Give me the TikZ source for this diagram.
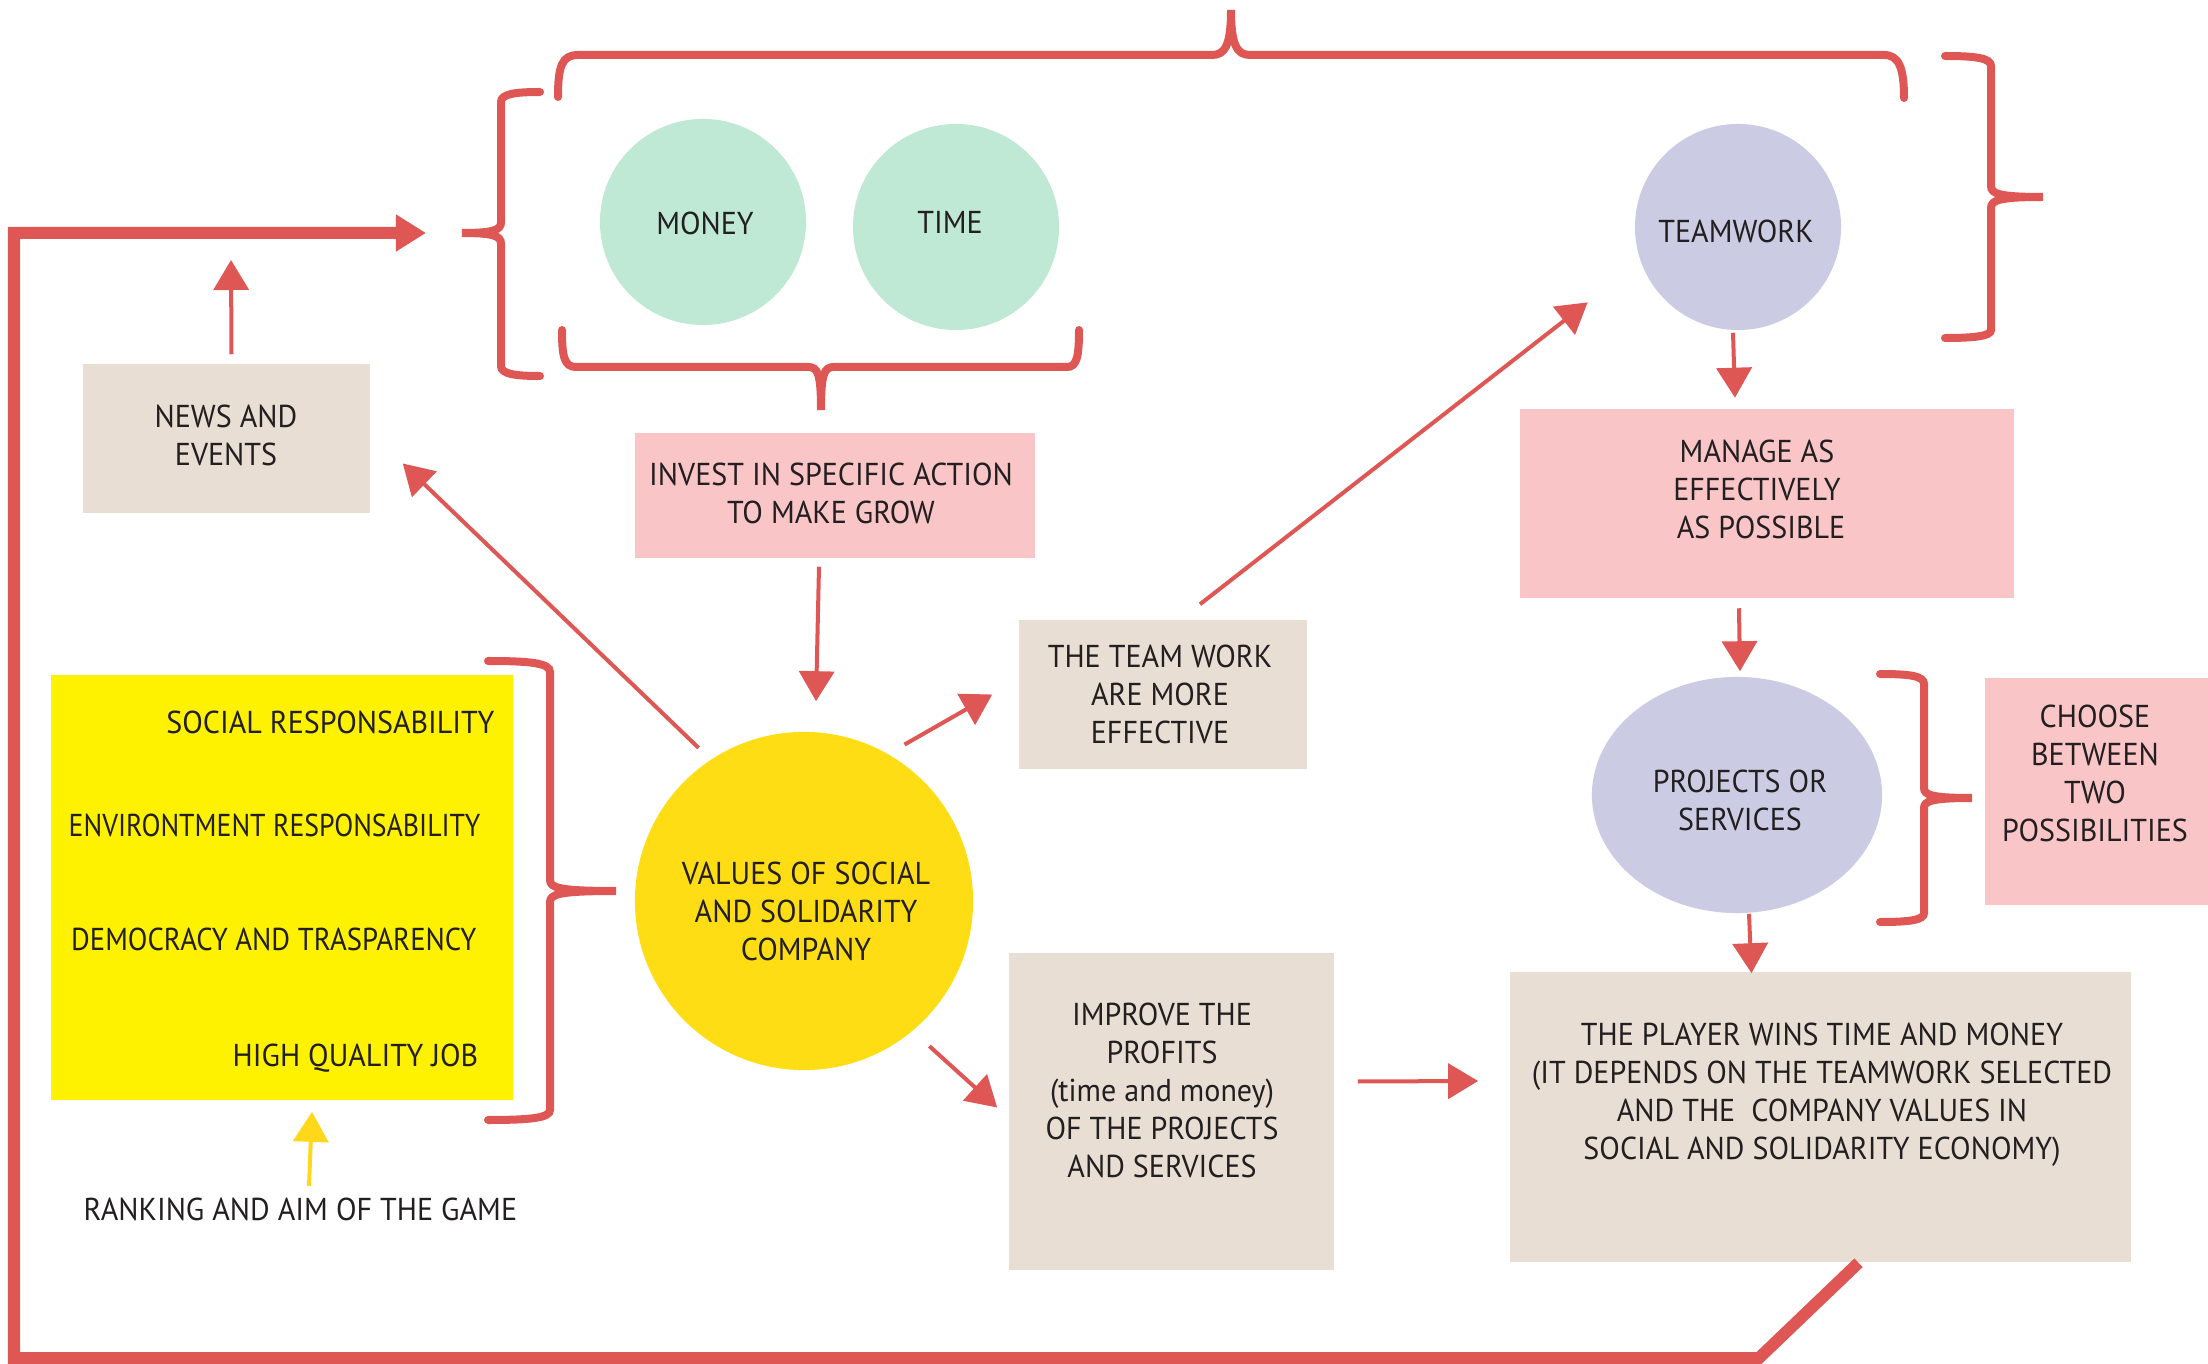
\documentclass[tikz,border=0pt]{standalone}
\usepackage{fontspec}
\setmainfont{PT Sans}[FakeStretch=0.95]
\usetikzlibrary{arrows.meta,shapes.geometric}

\definecolor{redline}{RGB}{222,87,84}
\definecolor{mint}{RGB}{191,232,213}
\definecolor{lavender}{RGB}{203,203,227}
\definecolor{beige}{RGB}{232,222,212}
\definecolor{pinkbox}{RGB}{249,197,199}
\definecolor{yellowbox}{RGB}{255,242,0}
\definecolor{gold}{RGB}{255,221,21}
\definecolor{goldarrow}{RGB}{255,216,26}
\definecolor{txtgray}{RGB}{35,31,32}

\begin{document}
\begin{tikzpicture}[x=0.01cm,y=-0.01cm,
	box/.style={rectangle,inner sep=0pt},
	circ/.style={circle,inner sep=0pt,minimum size=2.06cm},
	lbl/.style={align=center,text=txtgray,inner sep=0pt,font=\fontsize{9}{10.8}\selectfont},
	arr/.style={draw=redline,line width=0.04cm,-{Triangle[length=3mm,width=3.5mm]}},
	brace/.style={draw=redline,line width=0.08cm,line cap=round},
	loopline/.style={draw=redline,line width=0.12cm,-{Triangle[length=3mm,width=3.5mm]}}
]
\useasboundingbox (0,0) rectangle (2208,1364);

%corners of the big loop
\coordinate (bottom right) at (1759,1358);
\coordinate (bottom left)  at (14,1358);
\coordinate (top left)     at (14,233);
\coordinate (entry)        at (426,233);	%tip of the thick arrow
\coordinate (news tip)     at (231,260);

%boxes
\node[box,fill=beige,minimum width=2.87cm,minimum height=1.49cm]   (news)    at (226.5,438.5) {};
\node[box,fill=pinkbox,minimum width=4cm,minimum height=1.25cm]    (invest)  at (835,495.5) {};
\node[box,fill=beige,minimum width=2.88cm,minimum height=1.49cm]   (teameff) at (1163,694.5) {};
\node[box,fill=pinkbox,minimum width=4.94cm,minimum height=1.88cm] (manage)  at (1767,503.5) {};
\node[box,fill=pinkbox,minimum width=2.23cm,minimum height=2.26cm] (choose)  at (2096.5,791.5) {};
\node[box,fill=beige,minimum width=3.25cm,minimum height=3.17cm]   (improve) at (1171.5,1111.5) {};
\node[box,fill=beige,minimum width=6.21cm,minimum height=2.9cm]    (player)  at (1820.5,1117) {};
\node[box,fill=yellowbox,minimum width=4.62cm,minimum height=4.25cm] (values list) at (282,887.5) {};

%circles
\node[circ,fill=mint]     (money)    at (703,222) {};
\node[circ,fill=mint]     (time)     at (956,227) {};
\node[circ,fill=lavender] (teamwork) at (1738,227) {};
\node[circ,fill=gold,minimum size=3.38cm] (values) at (804,901) {};
\node[ellipse,inner sep=0pt,fill=lavender,minimum width=2.9cm,minimum height=2.36cm] (projects) at (1737,795) {};

%inside labels
\node[lbl] (money txt)    at (705,223)  {MONEY};
\node[lbl] (time txt)     at (950,222)  {TIME};
\node[lbl] (teamwork txt) at (1736,231) {TEAMWORK};
\node[lbl] (news txt)     at (226,435)  {NEWS AND\\EVENTS};
\node[lbl] (invest txt)   at (831,493)  {INVEST IN SPECIFIC ACTION\\TO MAKE GROW};
\node[lbl] (teameff txt)  at (1160,694) {THE TEAM WORK\\ARE MORE\\EFFECTIVE};
\node[lbl] (manage txt)   at (1757,489) {MANAGE AS\\EFFECTIVELY\\\ AS POSSIBLE};
\node[lbl] (projects txt) at (1740,800) {PROJECTS OR\\SERVICES};
\node[lbl] (choose txt)   at (2095,773) {CHOOSE\\BETWEEN\\TWO\\POSSIBILITIES};
\node[lbl] (values txt)   at (806,911)  {VALUES OF SOCIAL\\AND SOLIDARITY\\COMPANY};
\node[lbl] (improve txt)  at (1162,1090) {IMPROVE THE\\PROFITS\\(time and money)\\OF THE PROJECTS\\AND SERVICES};
\node[lbl] (player txt)   at (1822,1095) {THE PLAYER WINS TIME AND MONEY\\(IT DEPENDS ON THE TEAMWORK SELECTED\\AND THE\ \ COMPANY VALUES IN\\SOCIAL AND SOLIDARITY ECONOMY)};

%values of the company (right aligned, the two long ones squeezed)
\node[lbl,anchor=base east] (social)    at (495,734)  {SOCIAL RESPONSABILITY};
\node[lbl,anchor=base east] (environ)   at (481,837)  {\scalebox{0.924}[1]{ENVIRONTMENT RESPONSABILITY}};
\node[lbl,anchor=base east] (democracy) at (477,950)  {\scalebox{0.954}[1]{DEMOCRACY AND TRASPARENCY}};
\node[lbl,anchor=base east] (highjob)   at (479,1066) {HIGH QUALITY JOB};

%outside label
\node[lbl,anchor=west] (ranking) at (83,1209) {RANKING AND AIM OF THE GAME};

%braces
\draw[brace] (540,92) .. controls (515,92) and (501,94) .. (501,102) -- (501,222)
	.. controls (501,230) and (494,233) .. (462,233) .. controls (494,233) and (501,236) .. (501,244)
	-- (501,366) .. controls (501,374) and (515,376) .. (540,376);
\draw[brace] (562,330) .. controls (562,356) and (564,367) .. (576,367) -- (808,367)
	.. controls (818,367) and (821,374) .. (821,410) .. controls (821,374) and (824,367) .. (834,367)
	-- (1067,367) .. controls (1077,367) and (1079,356) .. (1079,330);
\draw[brace] (558,97) .. controls (558,66) and (562,55) .. (578,55) -- (1212,55)
	.. controls (1225,55) and (1231,45) .. (1231,10) .. controls (1231,45) and (1237,55) .. (1250,55)
	-- (1884,55) .. controls (1899,55) and (1904,68) .. (1904,98);
\draw[brace] (1945,56) .. controls (1975,56) and (1991,58) .. (1991,66) -- (1991,186)
	.. controls (1991,194) and (2000,197) .. (2043,197) .. controls (2000,197) and (1991,200) .. (1991,208)
	-- (1991,330) .. controls (1991,336) and (1975,338) .. (1945,338);
\draw[brace] (488,661) .. controls (530,661) and (550,663) .. (550,672) -- (550,880)
	.. controls (550,888) and (560,891) .. (616,891) .. controls (560,891) and (550,894) .. (550,902)
	-- (550,1110) .. controls (550,1118) and (530,1120) .. (488,1120);
\draw[brace] (1880,674) .. controls (1910,674) and (1924,676) .. (1924,684) -- (1924,788)
	.. controls (1924,795) and (1932,798) .. (1972,798) .. controls (1932,798) and (1924,801) .. (1924,808)
	-- (1924,913) .. controls (1924,920) and (1910,922) .. (1880,922);

%arrows
\draw[arr] ([shift={(5,-9)}]news.north) -- (news tip);
\draw[arr] ([shift={(-8,-14)}]values.125) -- ([shift={(32,25)}]news.east);
\draw[arr] ([shift={(-16,8)}]invest.south) -- ([shift={(12,-30)}]values.north);
\draw[arr] ([shift={(8,-14)}]values.57) -- ([shift={(-26,0)}]teameff.west);
\draw[arr] ([shift={(14,17)}]values.-49) -- ([shift={(-11,-4)}]improve.west);
\draw[arr] ([shift={(37,-15)}]teameff.north) -- ([shift={(-77,2)}]teamwork.south west);
\draw[arr] ([shift={(-5,2)}]teamwork.south) -- ([shift={(-32,-11)}]manage.north);
\draw[arr] ([shift={(-28,10)}]manage.south) -- ([shift={(3,-5)}]projects.north);
\draw[arr] ([shift={(12,0)}]projects.south) -- ([shift={(-69,2)}]player.north);
\draw[arr] ([shift={(23,-30)}]improve.east) -- ([shift={(-31,-36)}]player.west);
\draw[arr,draw=goldarrow] ([shift={(226,-11)}]ranking.north west) -- ([shift={(30,11)}]values list.south);

%big loop back to the resources
\draw[loopline] ([shift={(38,0)}]player.south) -- (bottom right) -- (bottom left) -- (top left) -- (entry);

\end{tikzpicture}
\end{document}
